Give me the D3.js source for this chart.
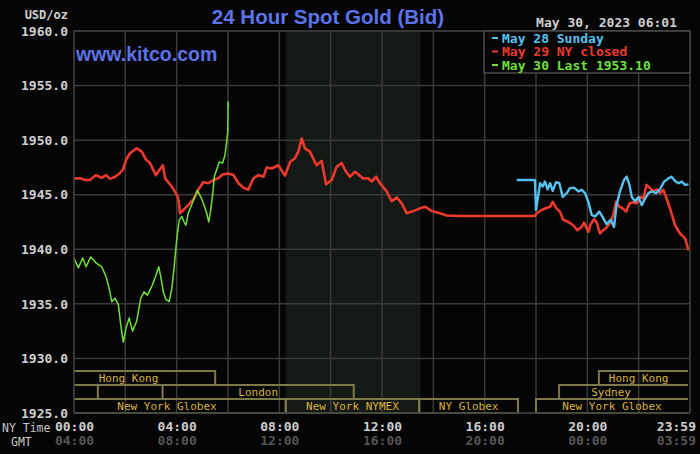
<!DOCTYPE html>
<html>
<head>
<meta charset="utf-8">
<script src="https://cdn.jsdelivr.net/npm/d3@7/dist/d3.min.js"></script>
<style>
    html, body { margin: 0; padding: 0; background: #050505; }
    svg { display: block; }
</style>
</head>
<body>
<svg id="chart"></svg>
<script>
// [NY hour, price]
var may28Sunday = [
    [17.25,1946.35],[17.96,1946.35],[18.0,1943.6],[18.16,1946.05],[18.26,1945.75],[18.35,1946.2],
    [18.45,1945.5],[18.55,1946.05],[18.65,1945.35],[18.78,1946.15],[18.91,1946.05],[19.04,1944.8],
    [19.2,1945.15],[19.32,1945.6],[19.48,1945.65],[19.65,1945.3],[19.78,1945.45],[19.91,1945.15],
    [20.04,1944.35],[20.17,1943.15],[20.3,1943.0],[20.47,1943.45],[20.62,1942.85],[20.75,1942.3],
    [20.91,1942.7],[21.04,1942.05],[21.14,1944.05],[21.27,1945.3],[21.43,1946.35],[21.53,1946.65],
    [21.64,1945.9],[21.73,1944.8],[21.86,1944.4],[21.99,1944.8],[22.12,1944.05],[22.25,1944.65],
    [22.38,1945.15],[22.51,1945.3],[22.68,1945.15],[22.83,1945.5],[22.99,1946.2],[23.16,1946.5],
    [23.28,1946.65],[23.42,1946.25],[23.55,1946.05],[23.68,1946.2],[23.81,1945.9],[23.94,1945.95]
];

var may29Closed = [
    [0,1946.5],[0.23,1946.5],[0.43,1946.35],[0.62,1946.35],[0.86,1946.8],[1.08,1946.55],[1.25,1946.8],
    [1.4,1946.45],[1.6,1946.65],[1.77,1946.95],[1.9,1947.25],[2.03,1948.2],[2.18,1948.8],[2.44,1949.25],
    [2.64,1948.95],[2.81,1948.2],[2.96,1947.9],[3.19,1946.8],[3.32,1947.25],[3.46,1947.7],[3.55,1946.5],
    [3.67,1946.15],[3.81,1945.75],[3.97,1945.15],[4.06,1944.65],[4.13,1943.3],[4.26,1943.6],[4.45,1944.05],
    [4.67,1944.65],[4.84,1945.45],[5.04,1946.15],[5.23,1946.05],[5.43,1946.35],[5.62,1946.5],[5.79,1946.85],
    [6.01,1946.95],[6.21,1946.8],[6.41,1946.05],[6.6,1945.65],[6.79,1945.45],[6.99,1946.5],[7.18,1946.8],
    [7.38,1946.65],[7.51,1947.5],[7.7,1947.4],[7.96,1947.7],[8.22,1946.75],[8.42,1948.0],[8.61,1948.35],
    [8.74,1948.95],[8.87,1950.15],[9.0,1949.25],[9.19,1948.95],[9.45,1947.7],[9.65,1948.1],[9.82,1945.95],
    [10.04,1946.35],[10.23,1947.55],[10.43,1947.9],[10.6,1947.1],[10.75,1946.65],[10.95,1947.1],
    [11.08,1946.85],[11.25,1946.5],[11.47,1946.5],[11.6,1946.2],[11.77,1946.65],[11.92,1946.05],
    [12.18,1945.3],[12.38,1944.4],[12.57,1944.75],[12.77,1944.2],[12.96,1943.3],[13.22,1943.5],
    [13.48,1943.75],[13.68,1943.9],[13.94,1943.5],[14.26,1943.3],[14.52,1943.1],[15.04,1943.05],
    [17.96,1943.05],[18.03,1943.3],[18.22,1943.6],[18.42,1943.8],[18.55,1943.9],[18.65,1944.35],
    [18.78,1943.8],[18.93,1943.45],[19.06,1942.7],[19.26,1942.5],[19.45,1942.2],[19.61,1941.75],
    [19.78,1942.05],[19.87,1942.45],[19.95,1942.05],[20.04,1941.6],[20.13,1942.3],[20.26,1942.75],
    [20.36,1942.5],[20.49,1941.45],[20.62,1941.75],[20.75,1942.0],[20.88,1942.4],[21.01,1943.15],
    [21.12,1944.35],[21.25,1943.9],[21.38,1943.75],[21.51,1943.45],[21.64,1944.2],[21.77,1944.3],
    [21.92,1944.2],[22.05,1944.8],[22.18,1944.65],[22.31,1945.9],[22.44,1945.6],[22.57,1945.3],
    [22.7,1945.5],[22.83,1945.15],[22.96,1945.45],[23.09,1944.65],[23.24,1943.6],[23.42,1942.2],
    [23.61,1941.45],[23.81,1941.0],[23.94,1939.9]
];

var may30Last = [
    [0,1939.2],[0.17,1938.3],[0.34,1939.2],[0.47,1938.4],[0.65,1939.3],[0.88,1938.7],[1.08,1938.4],
    [1.25,1937.5],[1.38,1936.3],[1.47,1935.2],[1.6,1935.5],[1.73,1934.9],[1.82,1933.1],[1.92,1931.5],
    [2.03,1932.8],[2.15,1933.7],[2.28,1932.5],[2.44,1933.4],[2.6,1935.5],[2.73,1936.1],[2.86,1935.8],
    [3.03,1936.6],[3.19,1937.6],[3.3,1938.4],[3.38,1937.5],[3.48,1936.1],[3.58,1935.4],[3.71,1935.2],
    [3.81,1936.4],[3.9,1938.3],[3.97,1940.1],[4.02,1941.3],[4.1,1942.7],[4.2,1943.0],[4.29,1942.5],
    [4.36,1942.2],[4.45,1943.3],[4.59,1944.1],[4.71,1944.8],[4.8,1945.4],[4.94,1944.8],[5.06,1944.1],
    [5.17,1943.3],[5.25,1942.5],[5.32,1943.5],[5.4,1945.0],[5.47,1946.7],[5.56,1947.3],[5.66,1948.0],
    [5.79,1947.9],[5.88,1948.6],[5.95,1949.9],[5.99,1950.8],[6.005,1953.5],[6.017,1953.1]
];

var priceTicks = [1925, 1930, 1935, 1940, 1945, 1950, 1955, 1960];
var gridHours = [0, 2, 4, 6, 8, 10, 12, 14, 16, 18, 20, 22, 24];
var nyTimeTicks = [0, 4, 8, 12, 16, 20, 23.98];
var nyTimeLabels = ['00:00', '04:00', '08:00', '12:00', '16:00', '20:00', '23:59'];
var gmtTimeLabels = ['04:00', '08:00', '12:00', '16:00', '20:00', '00:00', '03:59'];
var nymexPit = [8.25, 13.5];

var sessions = [
    {name: 'Hong Kong', start: -1.25, end: 5.5, row: 0},
    {name: 'Hong Kong', start: 20.45, end: 23.55, row: 0, open: true},
    {name: '', start: -1, end: 0.93, row: 1},
    {name: 'London', start: 3.45, end: 10.9, row: 1},
    {name: 'Sydney', start: 18.9, end: 22.95, row: 1, open: true},
    {name: 'New York Globex', start: -1, end: 8.25, row: 2},
    {name: 'New York NYMEX', start: 8.25, end: 13.45, row: 2},
    {name: 'NY Globex', start: 13.45, end: 17.3, row: 2},
    {name: 'New York Globex', start: 18, end: 23.92, row: 2, open: true}
];

var legendLabels = ['May 28 Sunday', 'May 29 NY closed', 'May 30 Last 1953.10'];
var legendColors = ['#55c3f2', '#ec3a2c', '#6ee03a'];

window.Gold = window.Gold || {};

Gold.init = function() {
    Gold.setup.initConst();
    Gold.setup.initObjects();
    Gold.core.draw();
};

Gold.core = {
    draw: function() {
        Gold.core.drawBackground();
        Gold.core.drawGrid();
        Gold.core.drawSessions();
        Gold.core.drawLine(may29Closed, legendColors[1], 2.6);
        Gold.core.drawLine(may28Sunday, legendColors[0], 2.4);
        Gold.core.drawLine(may30Last, legendColors[2], 1.5);
        Gold.core.drawAxes();
        Gold.core.drawTitles();
        Gold.core.drawLegend();
    },

    drawBackground: function() {
        Gold.plot.append('rect')
            .attr('x', Gold.x(nymexPit[0])).attr('y', Gold.top)
            .attr('width', Gold.x(nymexPit[1]) - Gold.x(nymexPit[0]))
            .attr('height', Gold.bottom - Gold.top)
            .attr('fill', '#151915');
    },

    drawGrid: function() {
        let g = Gold.plot.append('g').attr('class', 'grid');
        g.selectAll('line.h').data(priceTicks).enter().append('line')
            .attr('class', 'h')
            .attr('x1', Gold.left).attr('x2', Gold.right)
            .attr('y1', d => Gold.y(d)).attr('y2', d => Gold.y(d));
        g.selectAll('line.v').data(gridHours).enter().append('line')
            .attr('class', 'v')
            .attr('y1', Gold.top).attr('y2', Gold.bottom)
            .attr('x1', d => Gold.x(d)).attr('x2', d => Gold.x(d));
        g.selectAll('line').attr('stroke', '#3a3a3a').attr('stroke-width', 1.5);
    },

    drawSessions: function() {
        let g = Gold.plot.append('g').attr('clip-path', 'url(#sessClip)');
        let rows = Gold.rowY;
        // sessions still open at the right edge run past the plot
        let boxEnd = d => d.open ? Gold.right + 20 : Gold.x(d.end);
        g.selectAll('rect').data(sessions).enter().append('rect')
            .attr('x', d => Gold.x(d.start))
            .attr('y', d => rows(d.row))
            .attr('width', d => boxEnd(d) - Gold.x(d.start))
            .attr('height', rows.bandwidth())
            .attr('fill', 'none')
            .attr('stroke', '#7d7a4a')
            .attr('stroke-width', 2);
        g.selectAll('text').data(sessions).enter().append('text')
            .attr('x', d => Gold.x((d.start + d.end) / 2))
            .attr('y', d => rows(d.row) + rows.bandwidth() / 2 + 4)
            .attr('text-anchor', 'middle')
            .attr('fill', '#d8b23c')
            .style('font', '11px "DejaVu Sans Mono"')
            .text(d => d.name);
    },

    drawLine: function(data, color, width) {
        let line = d3.line().x(d => Gold.x(d[0])).y(d => Gold.y(d[1]));
        Gold.plot.append('path')
            .datum(data)
            .attr('d', line)
            .attr('fill', 'none')
            .attr('stroke', color)
            .attr('stroke-width', width)
            .attr('stroke-linejoin', 'round');
    },

    drawAxes: function() {
        let yAxis = d3.axisLeft(Gold.y).tickValues(priceTicks).tickSize(0).tickPadding(6)
                        .tickFormat(d3.format('.1f'));
        let ya = Gold.svg.append('g').attr('transform', 'translate(' + Gold.left + ',0)').call(yAxis);
        Gold.helpers.styleAxis(ya, '#cfcfcf');

        let nyAxis = d3.axisBottom(Gold.x).tickValues(nyTimeTicks).tickSize(0).tickPadding(9)
                        .tickFormat((d, i) => nyTimeLabels[i]);
        let na = Gold.svg.append('g').attr('transform', 'translate(0,' + Gold.bottom + ')').call(nyAxis);
        Gold.helpers.styleAxis(na, '#cfcfcf');

        let gmtAxis = d3.axisBottom(Gold.x).tickValues(nyTimeTicks).tickSize(0).tickPadding(23)
                        .tickFormat((d, i) => gmtTimeLabels[i]);
        let ga = Gold.svg.append('g').attr('transform', 'translate(0,' + Gold.bottom + ')').call(gmtAxis);
        Gold.helpers.styleAxis(ga, '#555555');

        [na, ga].forEach(function(a) {
            a.selectAll('.tick:last-of-type text').attr('text-anchor', 'end').attr('dx', 6);
        });

        Gold.svg.append('text').attr('x', 2).attr('y', 432).text('NY Time')
            .attr('fill', '#c8c8c8').style('font', '11.5px "DejaVu Sans Mono"');
        Gold.svg.append('text').attr('x', 11).attr('y', 446).text('GMT')
            .attr('fill', '#c8c8c8').style('font', '11.5px "DejaVu Sans Mono"');
        Gold.svg.append('text').attr('x', 68).attr('y', 19).text('USD/oz')
            .attr('text-anchor', 'end')
            .attr('fill', '#cfcfcf').style('font', 'bold 12px "DejaVu Sans Mono"');

        Gold.svg.append('rect')
            .attr('x', Gold.left).attr('y', Gold.top)
            .attr('width', Gold.right - Gold.left).attr('height', Gold.bottom - Gold.top)
            .attr('fill', 'none').attr('stroke', '#3a3a3a').attr('stroke-width', 1.5);
    },

    drawTitles: function() {
        Gold.svg.append('text').attr('x', 328).attr('y', 24)
            .attr('text-anchor', 'middle')
            .attr('fill', '#5d73ea')
            .style('font', 'bold 20.5px "Liberation Sans", Arial, sans-serif')
            .text('24 Hour Spot Gold (Bid)');
        Gold.svg.append('text').attr('x', 76).attr('y', 61)
            .attr('fill', '#5d73ea')
            .style('font', 'bold 19.5px "Liberation Sans", Arial, sans-serif')
            .text('www.kitco.com');
        Gold.svg.append('text').attr('x', 677).attr('y', 27)
            .attr('text-anchor', 'end')
            .attr('fill', '#cfcfcf')
            .style('font', 'bold 13px "DejaVu Sans Mono"')
            .text('May 30, 2023 06:01');
    },

    drawLegend: function() {
        let g = Gold.svg.append('g');
        g.append('rect')
            .attr('x', 484).attr('y', Gold.top).attr('width', Gold.right - 484).attr('height', 42)
            .attr('fill', '#050505').attr('stroke', '#4a4a4a').attr('stroke-width', 1.5);
        let items = g.selectAll('g.item').data(legendLabels).enter().append('g')
            .attr('transform', (d, i) => 'translate(492,' + (38 + i * 13.5) + ')');
        items.append('line')
            .attr('x1', 0).attr('x2', 6).attr('y1', 0).attr('y2', 0)
            .attr('stroke', (d, i) => legendColors[i]).attr('stroke-width', 2);
        items.append('text')
            .attr('x', 10).attr('y', 4.5)
            .attr('fill', (d, i) => legendColors[i])
            .style('font', 'bold 13px "DejaVu Sans Mono"')
            .text(d => d);
    }
};

Gold.helpers = {
    styleAxis: function(a, color) {
        a.select('.domain').remove();
        a.selectAll('text')
            .attr('fill', color)
            .style('font', 'bold 13px "DejaVu Sans Mono"');
    }
};

Gold.setup = {
    initConst: function() {
        Gold.width = 700;
        Gold.height = 454;
        Gold.left = 74;
        Gold.right = 690;
        Gold.top = 31;
        Gold.bottom = 413;
    },

    initObjects: function() {
        Gold.svg = d3.select('#chart')
            .attr('width', Gold.width)
            .attr('height', Gold.height);
        Gold.svg.append('rect').attr('width', Gold.width).attr('height', Gold.height).attr('fill', '#050505');

        Gold.x = d3.scaleLinear().domain([0, 24]).range([Gold.left, Gold.right]);
        Gold.y = d3.scaleLinear().domain([1925, 1960]).range([Gold.bottom, Gold.top]);
        Gold.rowY = d3.scaleBand().domain([0, 1, 2]).range([371, 413]);

        Gold.svg.append('defs').append('clipPath').attr('id', 'sessClip')
            .append('rect')
            .attr('x', Gold.left).attr('y', 360)
            .attr('width', Gold.right - Gold.left - 2).attr('height', 60);

        Gold.plot = Gold.svg.append('g');
    }
};

Gold.init();
</script>
</body>
</html>
